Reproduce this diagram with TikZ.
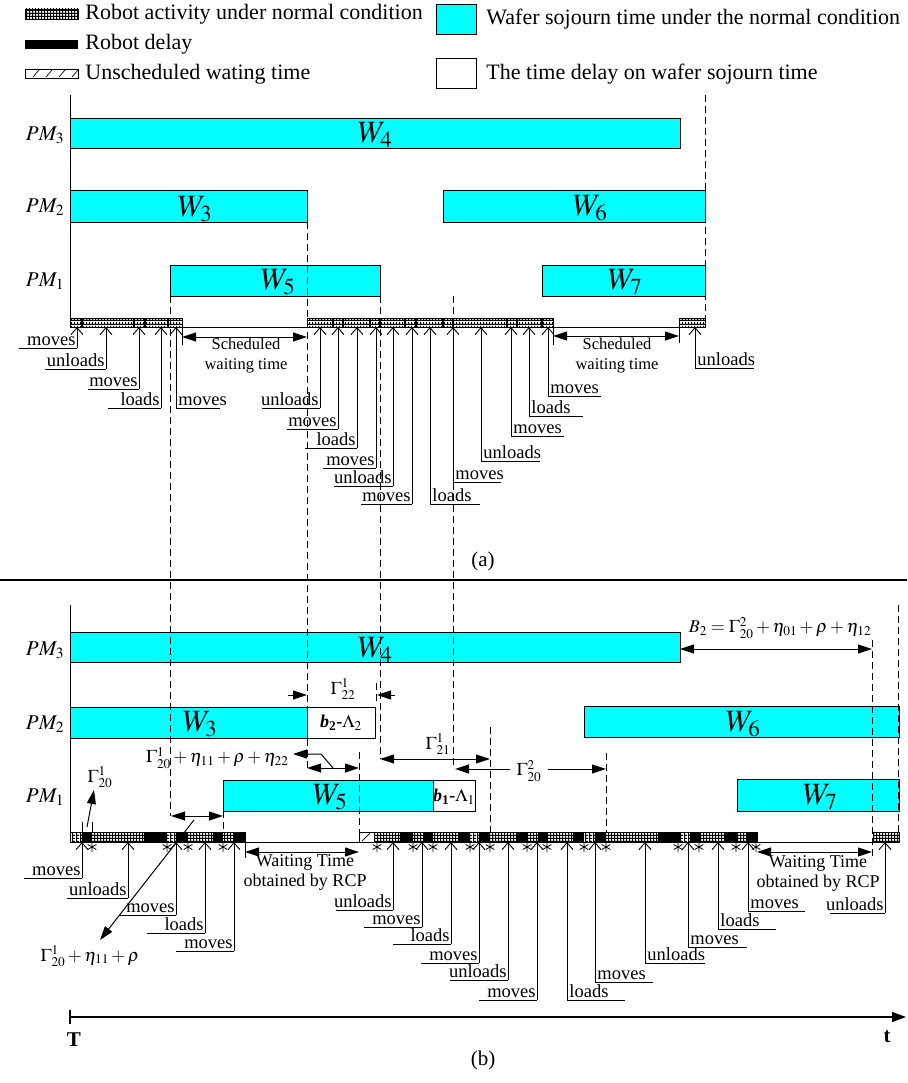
\documentclass[tikz,border=0pt]{standalone}
\usepackage{mathptmx}
\usepackage{fontspec}
\setmainfont{Liberation Serif}
\usetikzlibrary{arrows.meta,patterns}
\definecolor{wcyan}{RGB}{0,255,255}
\pgfdeclarepatternformonly{rcells}{\pgfqpoint{0pt}{0pt}}{\pgfqpoint{3.4pt}{3.4pt}}{\pgfqpoint{3.4pt}{3.4pt}}{%
 \pgfpathrectangle{\pgfqpoint{0pt}{0pt}}{\pgfqpoint{3.4pt}{1.2pt}}%
 \pgfpathrectangle{\pgfqpoint{0pt}{0pt}}{\pgfqpoint{1.2pt}{3.4pt}}%
 \pgfusepath{fill}}
\newcounter{lc}
\def\ybar{327}
\newcommand{\labL}[4]{%
 \stepcounter{lc}%
 \draw[uparr] (#1,#2) -- (#1,\ybar);
 \draw (#3,#2) -- (#1,#2);
 \node[lbl, anchor=base east] (lab\arabic{lc}) at ({#1-1},{#2-3}) {#4};}
\newcommand{\labR}[4]{%
 \stepcounter{lc}%
 \draw[uparr] (#1,#2) -- (#1,\ybar);
 \draw (#1,#2) -- (#3,#2);
 \node[lbl, anchor=base west] (lab\arabic{lc}) at ({#1+2},{#2-3}) {#4};}
\newcommand{\astk}[2]{%
 \draw[line width=0.8pt] (#1,{#2-5}) -- (#1,{#2+5}) ({#1-4.3},{#2-2.5}) -- ({#1+4.3},{#2+2.5}) ({#1-4.3},{#2+2.5}) -- ({#1+4.3},{#2-2.5});}
\tikzset{
 wbar/.style={draw=black, fill=wcyan, line width=0.9pt},
 dbox/.style={draw=black, fill=white, line width=0.9pt},
 vdash/.style={dash pattern=on 7pt off 4pt, line width=0.9pt},
 uparr/.style={-{Straight Barb[length=7pt,width=12pt]}, line width=0.9pt},
 tri/.style={-{Triangle[length=14pt,width=9pt]}, line width=1pt},
 dimarr/.style={{Triangle[length=14pt,width=9pt]}-{Triangle[length=14pt,width=9pt]}, line width=1pt},
 lbl/.style={font=\fontsize{18.5}{18.5}\selectfont, inner sep=0pt},
 legtxt/.style={font=\fontsize{22}{22}\selectfont, inner sep=0pt, anchor=base west},
 wlbl/.style={font=\fontsize{31}{31}\selectfont, inner sep=0pt},
 pmlbl/.style={font=\fontsize{21}{21}\selectfont, inner sep=0pt},
 mlbl/.style={font=\fontsize{18}{18}\selectfont, inner sep=0pt},
 swt/.style={font=\fontsize{16.5}{20}\selectfont, inner sep=0pt, align=center},
 wt/.style={font=\fontsize{18}{20}\selectfont, inner sep=0pt, align=center},
 captxt/.style={font=\fontsize{21}{21}\selectfont, inner sep=0pt}
}
\begin{document}
\begin{tikzpicture}[x=1pt,y=-1pt,line width=0.9pt]
\useasboundingbox (0,0) rectangle (907,1083);
% ---------------- legend
\fill[pattern=rcells] (25,9) rectangle (78,19); \draw[line width=0.8pt] (25,9) rectangle (78,19);
\node[legtxt] (lg1) at (85,20) {Robot activity under normal condition};
\fill (25,40) rectangle (78,49);
\node[legtxt] (lg2) at (85,50) {Robot delay};
\draw[line width=0.8pt] (25,69) rectangle (78,78);
\foreach \h in {33,46,59,72} \draw[line width=0.7pt] (\h,77) -- ({\h+6},70);
\node[legtxt] (lg3) at (85,80) {Unscheduled wating time};
\draw[wbar] (436,4) rectangle (476,34);
\node[legtxt] (lg4) at (486,25) {Wafer sojourn time under the normal condition};
\draw[dbox] (436,58) rectangle (476,88);
\node[legtxt] (lg5) at (486,80) {The time delay on wafer sojourn time};
% ---------------- part (a)
\draw (70,95) -- (70,318);
\node[pmlbl] (pma3) at (45,135) {$PM_3$};
\node[pmlbl] (pma2) at (45,207) {$PM_2$};
\node[pmlbl] (pma1) at (45,281) {$PM_1$};
\draw[wbar] (70,118) rectangle (680,148);
\draw[wbar] (70,190) rectangle (307,222);
\draw[wbar] (443,190) rectangle (705,222);
\draw[wbar] (170,265) rectangle (380,296);
\draw[wbar] (542,265) rectangle (705,296);
\node[wlbl] (wa4) at (375,135) {$W_4$};
\node[wlbl] (wa3) at (195,209) {$W_3$};
\node[wlbl] (wa6) at (590,208) {$W_6$};
\node[wlbl] (wa5) at (278,282) {$W_5$};
\node[wlbl] (wa7) at (625,282) {$W_7$};
\draw[vdash] (705,95) -- (705,318);
% robot bar (a)
\foreach \a/\b in {70/182,307/553,679/705} \fill[pattern=rcells] (\a,318) rectangle (\b,327);
\foreach \s in {82,134,145,168,333,343,370,380,405,416,443,453,507,517,542} \fill ({\s-0.8},318) rectangle ({\s+0.8},327);
\foreach \a/\b in {70/182,307/553,679/705} \draw (\a,318) rectangle (\b,327);
\draw (70,327) -- (705,327);
\draw (182,318) -- (182,345);
\draw (679,318) -- (679,343);
\draw (553,327) -- (553,345);
\draw[dimarr] (182,337) -- (307,337);
\draw[dimarr] (553,336) -- (679,336);
\node[swt] (swa1) at (246,356) {Scheduled\\waiting time};
\node[swt] (swa2) at (617,356) {Scheduled\\waiting time};
\def\ybar{327}
\labL{77}{348}{19}{moves}
\labL{106}{369}{45}{unloads}
\labL{139}{389}{88}{moves}
\labL{161}{408}{108}{loads}
\labR{176}{408}{220}{moves}
\labL{320}{408}{262}{unloads}
\labL{338}{429}{287}{moves}
\labL{357}{448}{305}{loads}
\labL{376}{468}{323}{moves}
\labL{393}{486}{334}{unloads}
\labL{412}{504}{361}{moves}
\labR{430}{504}{480}{loads}
\labR{453}{482}{501}{moves}
\labR{481}{461}{540}{unloads}
\labR{511}{436}{564}{moves}
\labR{529}{416}{583}{loads}
\labR{548}{396}{601}{moves}
\labR{695}{368}{754}{unloads}
\node[captxt] (capa) at (483,561) {(a)};
\draw[line width=1.5pt] (0,580) -- (907,580);
% ---------------- part (b)
\draw (70,605) -- (70,832);
\node[pmlbl] (pmb3) at (45,650) {$PM_3$};
\node[pmlbl] (pmb2) at (45,724) {$PM_2$};
\node[pmlbl] (pmb1) at (45,797) {$PM_1$};
\draw[wbar] (70,632) rectangle (680,662);
\draw[wbar] (70,707) rectangle (307,738);
\draw[dbox] (307,707) rectangle (375,738);
\draw[wbar] (584,706) rectangle (899,737);
\draw[wbar] (223,780) rectangle (433,811);
\draw[dbox] (433,780) rectangle (475,811);
\draw[wbar] (737,779) rectangle (899,811);
\node[wlbl] (wb4) at (375,650) {$W_4$};
\node[wlbl] (wb3) at (200,724) {$W_3$};
\node[wlbl] (wb6) at (743,724) {$W_6$};
\node[wlbl] (wb5) at (330,797) {$W_5$};
\node[wlbl] (wb7) at (820,797) {$W_7$};
\node[mlbl] (b2l) at (341,723) {\textbf{\textit{b}}\textsubscript{\textbf{2}}\textbf{-}$\Lambda_2$};
\node[mlbl] (b1l) at (454,797) {\textbf{\textit{b}}\textsubscript{\textbf{1}}\textbf{-}$\Lambda_1$};
% dashed guide lines
\draw[vdash] (170,296) -- (170,816);
\draw[vdash] (307,222) -- (307,768);
\draw[vdash] (380,296) -- (380,759);
\draw[vdash] (453,296) -- (453,769);
\draw[vdash] (376,683) -- (376,703);
\draw[vdash] (359,752) -- (359,832);
\draw[vdash] (490,727) -- (490,832);
\draw[vdash] (606,753) -- (606,832);
\draw[vdash] (223,811) -- (223,832);
\draw[vdash] (872,640) -- (872,860);
\draw[vdash] (898,605) -- (898,832);
% annotations
\node[mlbl] (b2f) at (780,628) {$B_2=\Gamma^2_{20}+\eta_{01}+\rho+\eta_{12}$};
\draw[dimarr] (680,649) -- (872,649);
\draw[tri] (288,695) -- (307,695);
\draw[tri] (395,695) -- (377,695);
\node[mlbl] (g22) at (343,689) {$\Gamma^1_{22}$};
\node[mlbl, anchor=east] (g2022) at (289,758) {$\Gamma^1_{20}+\eta_{11}+\rho+\eta_{22}$};
\draw[tri] (333,768) -- (321,754) -- (293,754);
\draw[dimarr] (307,768) -- (359,768);
\draw[dimarr] (380,759) -- (490,759);
\node[mlbl] (g21) at (438,744) {$\Gamma^1_{21}$};
\node[mlbl] (g202) at (529,771) {$\Gamma^2_{20}$};
\draw[tri] (510,769) -- (455,769);
\draw[tri] (548,769) -- (606,769);
\node[mlbl] (g201) at (100,777) {$\Gamma^1_{20}$};
\draw[tri] (87,827) -- (94,790);
\draw (82,822) -- (82,832);
\draw (92,822) -- (92,832);
\draw[dimarr] (171,816) -- (223,816);
\draw[tri] (194,820) -- (100,940);
\node[mlbl] (g20r) at (90,956) {$\Gamma^1_{20}+\eta_{11}+\rho$};
% robot bar (b)
\foreach \a/\b in {70/82,92/144,167/176,188/213,223/233,374/400,413/423,433/458,470/479,490/516,527/538,548/573,584/595,606/658,680/690,700/725,737/747,873/899} \fill[pattern=rcells] (\a,832) rectangle (\b,842);
\foreach \a/\b in {82/92,144/167,176/188,213/223,233/245,400/413,423/433,458/470,479/490,516/527,538/548,573/584,595/606,658/680,690/700,725/737,747/757} \fill (\a,832) rectangle (\b,842);
\draw[line width=0.7pt] (362,841) -- (370,833);
\draw (70,832) rectangle (245,842);
\draw (359,832) rectangle (757,842);
\draw (873,832) rectangle (899,842);
\draw (70,842) -- (899,842);
\foreach \s in {92,167,188,223,377,413,433,470,490,527,547,584,606,678,699,736,756} {\astk{\s}{847}}
\draw (245,842) -- (245,858);
\draw[dimarr] (245,852) -- (359,852);
\draw[dimarr] (757,852) -- (872,852);
\node[wt] (wt1) at (305,872) {Waiting Time\\obtained by RCP};
\node[wt] (wt2) at (818,873) {Waiting Time\\obtained by RCP};
\def\ybar{842}
\labL{82}{878}{24}{moves}
\labL{128}{898}{67}{unloads}
\labL{176}{915}{120}{moves}
\labL{205}{933}{147}{loads}
\labL{234}{951}{176}{moves}
\labL{393}{910}{336}{unloads}
\labL{422}{927}{364}{moves}
\labL{451}{944}{393}{loads}
\labL{479}{963}{421}{moves}
\labL{508}{980}{450}{unloads}
\labL{537}{1000}{479}{moves}
\labR{567}{1000}{625}{loads}
\labR{595}{982}{653}{moves}
\labR{645}{963}{705}{unloads}
\labR{688}{947}{747}{moves}
\labR{718}{929}{776}{loads}
\labR{748}{911}{805}{moves}
\labL{885}{913}{830}{unloads}
% time axis
\draw[-{Triangle[length=14pt,width=10pt]}, line width=1.2pt] (70,1017) -- (906,1017);
\draw[line width=1.2pt] (70,1010) -- (70,1024);
\node[captxt] (tT) at (74,1040) {\textbf{T}};
\node[captxt] (tt) at (887,1037) {\textbf{t}};
\node[captxt] (capb) at (483,1060) {(b)};
\end{tikzpicture}
\end{document}
